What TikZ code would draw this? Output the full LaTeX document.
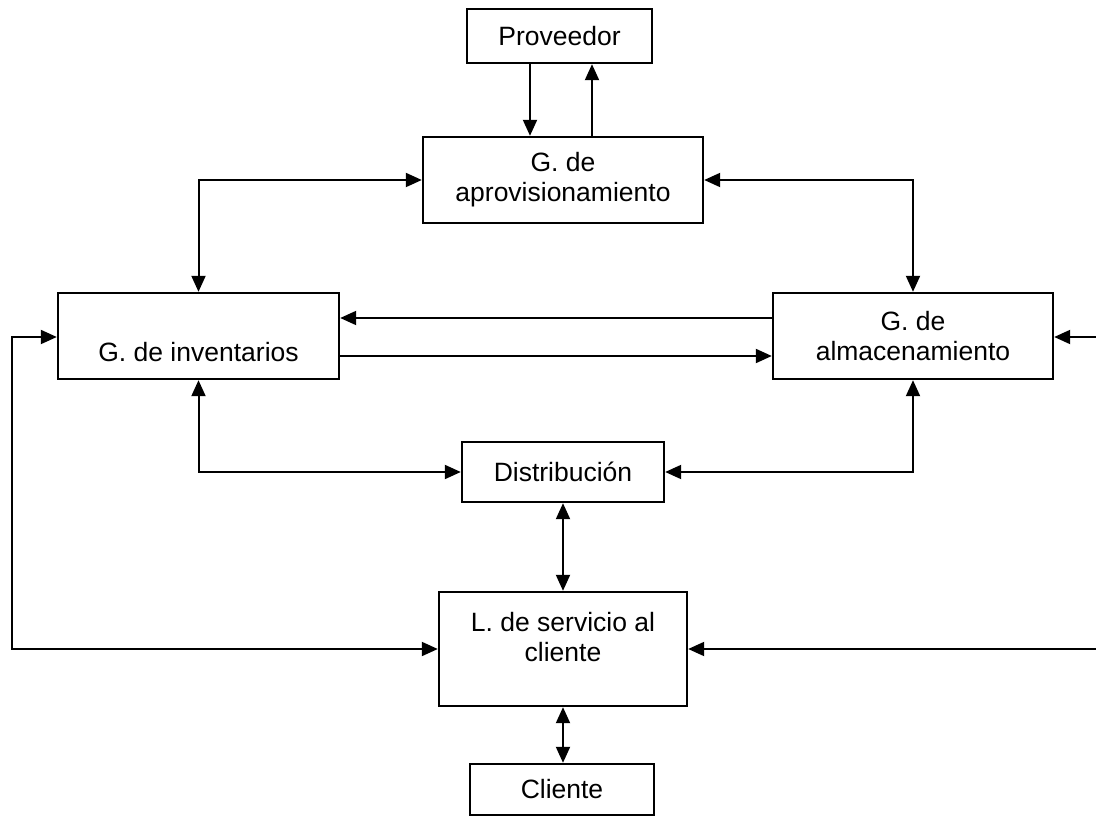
\documentclass[tikz,border=0pt]{standalone}
\usepackage{fontspec}
\setmainfont{Liberation Sans}
\usetikzlibrary{arrows.meta}
\begin{document}
\begin{tikzpicture}[x=1pt,y=-1pt,
  box/.style={draw, line width=2.4pt, rectangle, align=center, inner sep=0pt,
    font=\fontsize{26.5}{30}\selectfont},
  tip/.tip={Triangle[length=16pt,width=14pt]},
  link/.style={line width=2pt, -tip},
  dlink/.style={line width=2pt, tip-tip}]
\useasboundingbox (0,0) rectangle (1096,818);

% boxes
\node[box, minimum width=185pt, minimum height=54pt] (prov) at (559.5,36) {Proveedor};
\node[box, minimum width=280pt, minimum height=86pt] (aprov) at (563,180) {G. de\\aprovisionamiento};
\node[box, minimum width=281pt, minimum height=86pt] (inv) at (198.5,336) {\strut\\[10pt]G. de inventarios\strut};
\node[box, minimum width=280pt, minimum height=86pt] (alm) at (913,336) {G. de\\almacenamiento};
\node[box, minimum width=202pt, minimum height=60pt] (dist) at (563,472) {Distribución};
\node[box, minimum width=248pt, minimum height=114pt] (serv) at (563,649) {L. de servicio al\\cliente\\[-6pt]~};
\node[box, minimum width=184pt, minimum height=51pt] (cli) at (562,789.5) {Cliente};

% routing guides
\coordinate (xa) at (530,0);
\coordinate (xb) at (592,0);
\coordinate (lcol) at (12,0);
\coordinate (rcol) at (1096,0);
\coordinate (yhi) at (0,318);
\coordinate (ylo) at (0,356);
\coordinate (yin) at (0,337);

% supplier exchange
\draw[link] (prov.south -| xa) -- (aprov.north -| xa);
\draw[link] (aprov.north -| xb) -- (prov.south -| xb);

% procurement to inventory and storage
\draw[dlink] (aprov.west) -| (inv.north);
\draw[dlink] (aprov.east) -| (alm.north);

% inventory <-> storage
\draw[link] (alm.west |- yhi) -- (inv.east |- yhi);
\draw[link] (inv.east |- ylo) -- (alm.west |- ylo);

% distribution links
\draw[dlink] (inv.south) |- (dist.west);
\draw[dlink] (alm.south) |- (dist.east);
\draw[dlink] (dist.south) -- (serv.north);
\draw[dlink] (serv.south) -- (serv.south |- cli.north);

% outer loops
\draw[dlink] (serv.west) -- (serv.west -| lcol) -- (lcol |- yin) -- (inv.west |- yin);
\draw[link] (rcol |- yin) -- (alm.east |- yin);
\draw[link] (rcol |- serv.east) -- (serv.east);
\end{tikzpicture}
\end{document}
